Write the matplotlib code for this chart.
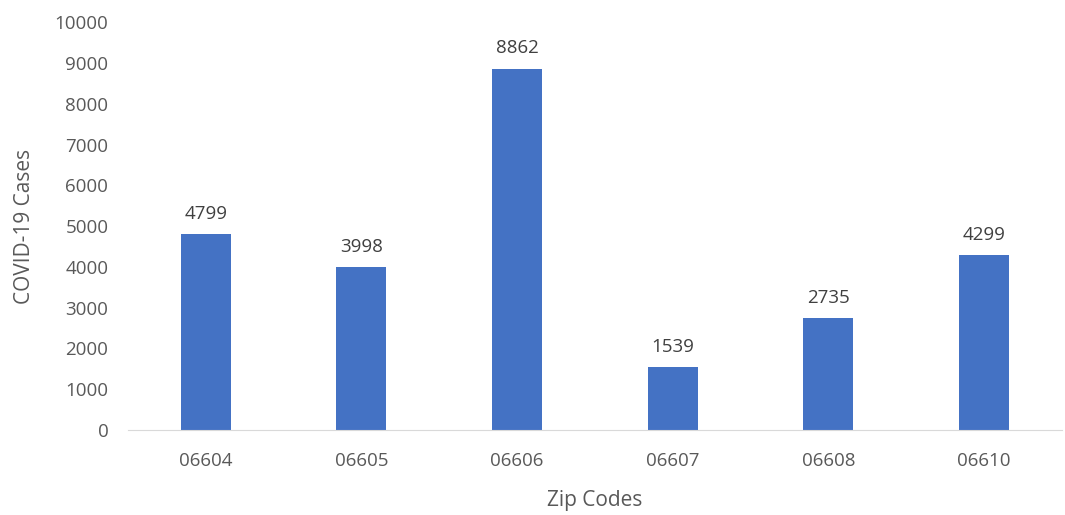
import matplotlib.pyplot as plt
from matplotlib import rcParams

rcParams['font.family'] = ['Open Sans', 'DejaVu Sans']

zip_codes = ["06604", "06605", "06606", "06607", "06608", "06610"]
cases = [4799, 3998, 8862, 1539, 2735, 4299]

text_color = "#595959"
bar_color = "#4472C4"

fig = plt.figure(figsize=(10.65, 5.15), dpi=100)
ax = fig.add_axes([0.120, 0.165, 0.877, 0.792])

x = range(len(zip_codes))
bars = ax.bar(x, cases, width=0.32, color=bar_color)

# value labels above bars
for b, v in zip(bars, cases):
    ax.annotate(str(v), (b.get_x() + b.get_width() / 2, v),
                xytext=(0, 8), textcoords="offset points",
                ha="center", va="bottom", fontsize=13.5, color="#404040")

ax.set_xlim(-0.5, len(zip_codes) - 0.5)
ax.set_ylim(0, 10000)
ax.set_yticks(range(0, 10001, 1000))
ax.set_xticks(list(x))
ax.set_xticklabels(zip_codes)

for side in ["top", "right", "left"]:
    ax.spines[side].set_visible(False)
ax.spines["bottom"].set_color("#D9D9D9")
ax.tick_params(axis="both", length=0, labelsize=13.5, colors=text_color)
ax.tick_params(axis="x", pad=16)
ax.tick_params(axis="y", pad=14)

ax.set_xlabel("Zip Codes", fontsize=15, color=text_color, labelpad=14)
ax.set_ylabel("COVID-19 Cases", fontsize=15, color=text_color, labelpad=14)

fig.savefig("out.png", dpi=100)
